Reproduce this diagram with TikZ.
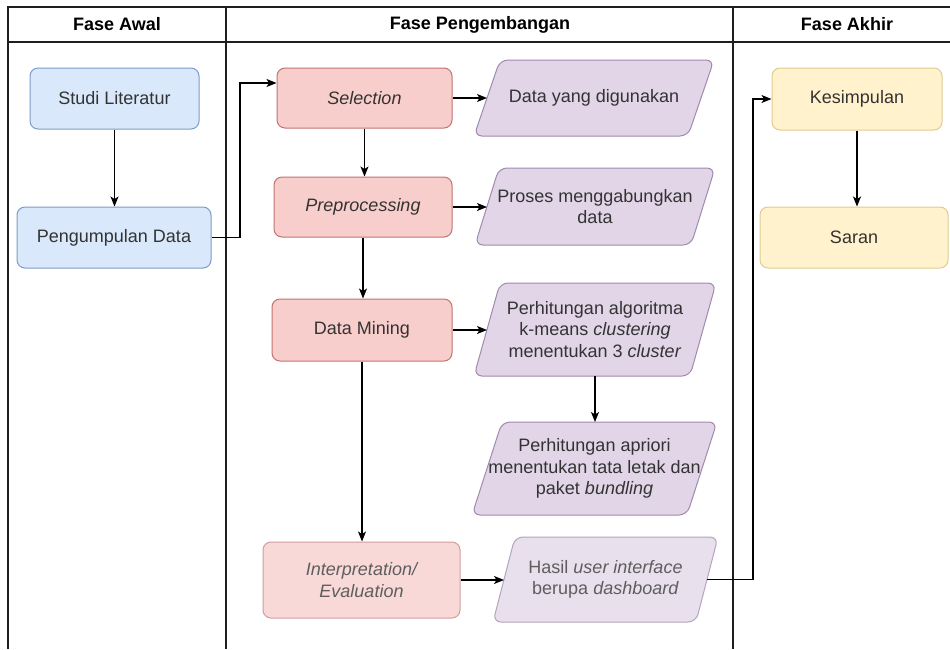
\documentclass[tikz,border=0pt]{standalone}
\usepackage{fontspec}
\setmainfont{Liberation Sans}
\usetikzlibrary{arrows.meta,calc}
\definecolor{txt}{HTML}{333333}
\definecolor{lightxt}{HTML}{5E5E5E}
\definecolor{gridc}{HTML}{1E1E1E}
\definecolor{bfill}{HTML}{DAE8FC}
\definecolor{bline}{HTML}{7E9CC8}
\definecolor{rfill}{HTML}{F8CECC}
\definecolor{rline}{HTML}{C27470}
\definecolor{rfillL}{HTML}{F9D9D8}
\definecolor{rlineL}{HTML}{D09E9B}
\definecolor{pfill}{HTML}{E1D5E7}
\definecolor{pline}{HTML}{A08AAE}
\definecolor{pfillL}{HTML}{E8E0EC}
\definecolor{plineL}{HTML}{B5A4BF}
\definecolor{yfill}{HTML}{FFF2CC}
\definecolor{yline}{HTML}{E0CC90}
\tikzset{
  boxbase/.style={rounded corners=8pt, draw, line width=1pt, align=center,
    font=\fontsize{18}{21.5}\selectfont, text=txt, inner sep=0pt},
  bluebox/.style={boxbase, fill=bfill, draw=bline},
  redbox/.style={boxbase, fill=rfill, draw=rline},
  redboxL/.style={boxbase, fill=rfillL, draw=rlineL, text=lightxt},
  yellowbox/.style={boxbase, fill=yfill, draw=yline},
  parashape/.style={rounded corners=8pt, line width=1pt, fill=pfill, draw=pline},
  parashapeL/.style={rounded corners=8pt, line width=1pt, fill=pfillL, draw=plineL},
  paratext/.style={align=center, font=\fontsize{18}{21.5}\selectfont, text=txt, inner sep=0pt},
  paratextL/.style={paratext, text=lightxt},
  header/.style={font=\fontsize{18}{21.5}\selectfont\bfseries, text=black, inner sep=0pt},
  gridline/.style={draw=gridc, line width=1.3pt},
  arr/.style={draw=black, line width=1.3pt, -{Stealth[length=10pt,width=8pt,inset=2.5pt]}},
}
% #1 name, #2 shape style, #3 text style, #4 cx, #5 cy, #6 w, #7 h, #8 slant, #9 text
\newcommand\paragram[9]{%
  \path[#2] (#4-#6/2+#8, #5-#7/2) -- (#4+#6/2, #5-#7/2) -- (#4+#6/2-#8, #5+#7/2) -- (#4-#6/2, #5+#7/2) -- cycle;
  \node[#3] (#1) at (#4,#5) {#9};
  \coordinate (#1-w) at (#4-#6/2+#8/2, #5);
  \coordinate (#1-e) at (#4+#6/2-#8/2, #5);
  \coordinate (#1-n) at (#4, #5-#7/2);
  \coordinate (#1-s) at (#4, #5+#7/2);
}
\begin{document}
\begin{tikzpicture}[x=1pt,y=-1pt]
\useasboundingbox (0,0) rectangle (950,649);
\fill[white] (0,0) rectangle (950,649);

% swimlane table
\draw[gridline] (8,649) -- (8,7) -- (950,7);
\draw[gridline] (8,42) -- (950,42);
\draw[gridline] (226,7) -- (226,649);
\draw[gridline] (733,7) -- (733,649);
\node[header] (h1) at (117,24.5) {Fase Awal};
\node[header] (h2) at (480,24.5) {Fase Pengembangan};
\node[header] (h3) at (847,24.5) {Fase Akhir};

% Fase Awal
\node[bluebox, minimum width=169pt, minimum height=61pt] (studi) at (114.5,98.5) {Studi Literatur};
\node[bluebox, minimum width=194pt, minimum height=61pt] (peng) at (114,237.5) {Pengumpulan Data};

% Fase Pengembangan
\node[redbox, minimum width=175pt, minimum height=60pt] (sel) at (364.5,98) {\itshape Selection};
\node[redbox, minimum width=178pt, minimum height=60pt] (prep) at (363,207) {\itshape Preprocessing};
\node[redbox, minimum width=180pt, minimum height=62pt] (dm) at (362,330) {Data Mining};
\node[redboxL, minimum width=197pt, minimum height=76pt] (interp) at (361.5,580) {\itshape Interpretation/\\\itshape Evaluation};

\paragram{dat}{parashape}{paratext}{594}{98}{240}{76}{26}{Data yang digunakan}
\paragram{pros}{parashape}{paratext}{595}{206.5}{240}{77}{24}{Proses menggabungkan\\data}
\paragram{alg}{parashape}{paratext}{595}{329.5}{242}{93}{26}{Perhitungan algoritma\\k-means \textit{clustering}\\menentukan 3 \textit{cluster}}
\paragram{apr}{parashape}{paratext}{594.5}{468.5}{245}{93}{30}{Perhitungan apriori\\menentukan tata letak dan\\paket \textit{bundling}}
\paragram{hasil}{parashapeL}{paratextL}{605.5}{579.5}{225}{85}{22}{Hasil \textit{user interface}\\berupa \textit{dashboard}}

% Fase Akhir
\node[yellowbox, minimum width=170pt, minimum height=62pt] (kes) at (857,99) {Kesimpulan};
\node[yellowbox, minimum width=188pt, minimum height=61pt] (saran) at (854,237.5) {Saran};

% junction points
\coordinate (j1) at (240,237.5);
\coordinate (j2) at (753,579.5);

% connectors
\draw[arr] (studi.south) -- (studi.south |- peng.north);
\draw[arr] (peng.east) -- (j1) |- ([yshift=15pt]sel.west);
\draw[arr] (sel.east) -- (sel.east -| dat-w);
\draw[arr] (sel.south) -- (sel.south |- prep.north);
\draw[arr] (prep.east) -- (prep.east -| pros-w);
\draw[arr] (prep.south) -- (prep.south |- dm.north);
\draw[arr] (dm.east) -- (dm.east -| alg-w);
\draw[arr] (dm.south) -- (dm.south |- interp.north);
\draw[arr] (alg-s) -- (alg-s |- apr-n);
\draw[arr] (interp.east) -- (interp.east -| hasil-w);
\draw[arr] (hasil-e) -- (j2) |- (kes.west);
\draw[arr] (kes.south) -- (kes.south |- saran.north);
\end{tikzpicture}
\end{document}
